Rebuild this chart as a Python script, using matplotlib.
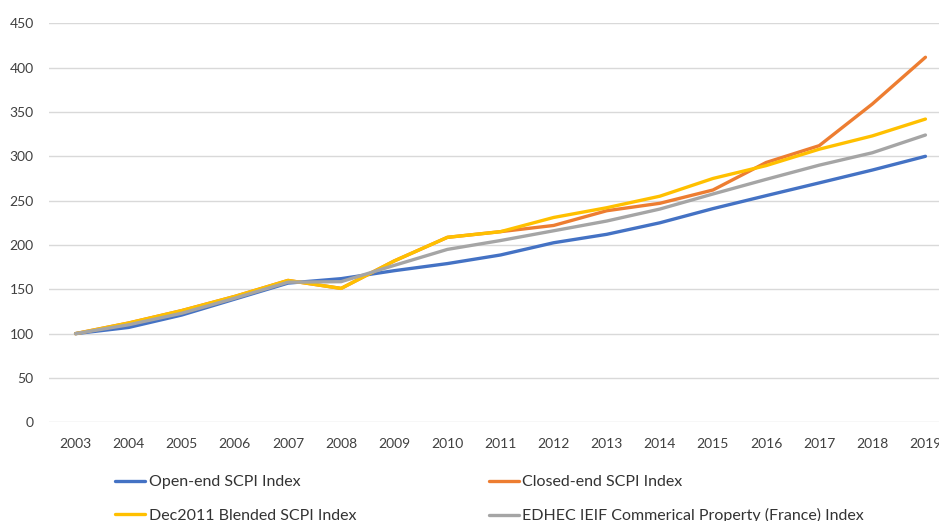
import matplotlib
matplotlib.use("Agg")
import matplotlib.pyplot as plt

years = list(range(2003, 2020))
open_end = [100, 107, 121, 139, 157, 162, 171, 179, 188.7, 202.5, 212, 225, 241, 255.6, 270, 284.5, 300]
closed_end = [100, 112, 126, 142, 160, 151, 182, 208.6, 215, 222, 238.6, 247, 262, 293, 312, 359, 411.7]
blended = [100, 112, 126, 142, 160, 151, 182, 208.6, 215, 231, 242, 255, 275, 289.5, 308, 323, 342]
edhec = [100, 110, 123, 140, 158, 158.6, 177, 195, 205, 216, 227, 240.5, 257.5, 274, 290, 304, 324]

labels = ["Open-end SCPI Index", "Closed-end SCPI Index",
          "Dec2011 Blended SCPI Index", "EDHEC IEIF Commerical Property (France) Index"]
colors = ["#4472C4", "#ED7D31", "#FFC000", "#A5A5A5"]
series = [open_end, closed_end, blended, edhec]
y_ticks = list(range(0, 451, 50))

plt.rcParams['font.family'] = ['Lato', 'DejaVu Sans']

W, H = 939, 521
fig = plt.figure(figsize=(W / 100, H / 100), dpi=100)
left, right = 49 / W, 952 / W
bottom, top = 1 - 422.3 / H, 1 - 23.3 / H
ax = fig.add_axes([left, bottom, right - left, top - bottom])

lines = []
for vals, c, lab in zip(series, colors, labels):
    ln, = ax.plot(years, vals, color=c, lw=2.4, label=lab, solid_capstyle='round', solid_joinstyle='round')
    lines.append(ln)

ax.set_xlim(2002.5, 2019.5)
ax.set_ylim(0, 450)
ax.set_yticks(y_ticks)
ax.set_xticks(years)
ax.set_xticklabels([str(y) for y in years])
ax.grid(axis='y', color='#D9D9D9', lw=1)
ax.set_axisbelow(True)
for s in ax.spines.values():
    s.set_visible(False)
ax.tick_params(axis='both', length=0, colors='#404040', labelsize=10)
ax.tick_params(axis='y', pad=11)
ax.tick_params(axis='x', pad=11)

order = [0, 2, 1, 3]
leg = fig.legend([lines[i] for i in order], [labels[i] for i in order],
                 ncol=2, loc='upper left', bbox_to_anchor=(115 / W, 1 - 475 / H),
                 frameon=False, fontsize=11.5, labelcolor='#333333',
                 handlelength=1.9, handletextpad=0.2, columnspacing=8.3,
                 labelspacing=1.2, borderpad=0, borderaxespad=0)

fig.savefig("out.png", dpi=100)
